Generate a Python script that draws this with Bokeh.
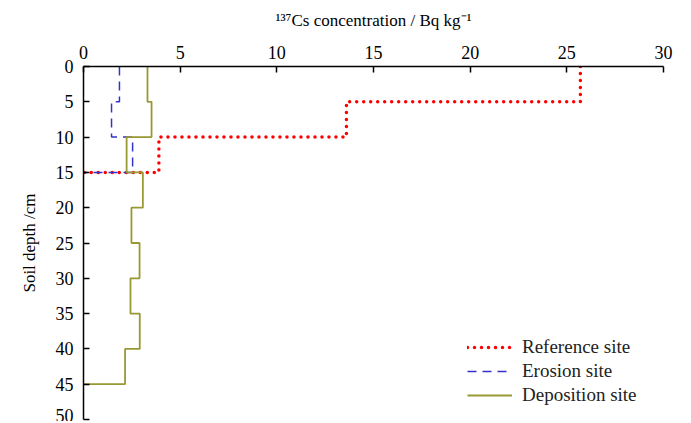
from bokeh.plotting import figure
from bokeh.models import Range1d, FixedTicker, Legend, LegendItem
from bokeh.embed import file_html
from bokeh.resources import INLINE

# Layer boundaries (cm) and 137Cs concentration (Bq/kg) per 5-cm layer
layer_top = [0, 5, 10, 15, 20, 25, 30, 35, 40]
layer_thickness = 5
ref_cs = [25.7, 13.6, 3.9]
ero_cs = [1.86, 1.45, 2.54]
dep_cs = [3.31, 3.52, 2.23, 3.07, 2.48, 2.90, 2.43, 2.91, 2.15]

x_ticks = [0, 5, 10, 15, 20, 25, 30]
y_ticks = [0, 5, 10, 15, 20, 25, 30, 35, 40, 45, 50]
series_names = ["Reference site", "Erosion site", "Deposition site"]


def step_profile(values):
    xs, ys = [], []
    for top, v in zip(layer_top, values):
        xs += [v, v]
        ys += [top, top + layer_thickness]
    xs.append(0)
    ys.append(ys[-1])
    return xs, ys


FONT = "Liberation Serif"

p = figure(width=685, height=421, output_backend="svg", toolbar_location=None,
           x_axis_location="above",
           x_range=Range1d(0, 30), y_range=Range1d(50, 0),
           min_border_left=83, min_border_right=22, min_border_top=66,
           min_border_bottom=2)
p.outline_line_color = None
p.xgrid.visible = False
p.ygrid.visible = False
p.background_fill_color = "white"
p.border_fill_color = "white"

for ax in (p.xaxis[0], p.yaxis[0]):
    ax.axis_line_color = "black"
    ax.axis_line_width = 1.5
    ax.major_tick_line_color = "black"
    ax.major_tick_line_width = 1.5
    ax.major_tick_in = 6
    ax.major_tick_out = 0
    ax.minor_tick_line_color = None
    ax.major_label_text_font = FONT
    ax.major_label_text_font_size = "18px"
    ax.major_label_text_color = "black"
    ax.axis_label_text_font = FONT
    ax.axis_label_text_font_style = "normal"
    ax.axis_label_text_color = "black"

p.xaxis[0].ticker = FixedTicker(ticks=x_ticks)
p.yaxis[0].ticker = FixedTicker(ticks=y_ticks)
p.xaxis[0].axis_label = "\u00b9\u00b3\u2077Cs concentration / Bq kg\u207b\u00b9"
p.xaxis[0].axis_label_text_font_size = "17px"
p.xaxis[0].major_label_standoff = 8
p.xaxis[0].axis_label_standoff = 13
p.yaxis[0].axis_label = "Soil depth /cm"
p.yaxis[0].axis_label_text_font_size = "17px"
p.yaxis[0].major_label_standoff = 10
p.yaxis[0].axis_label_standoff = 14

xs, ys = step_profile(ref_cs)
r_ref = p.line(xs, ys, line_color="#ff0000", line_width=3.5,
               line_dash="0 7", line_cap="round")
xs, ys = step_profile(ero_cs)
r_ero = p.line(xs, ys, line_color="#3333cc", line_width=1.5, line_dash="9 6")
xs, ys = step_profile(dep_cs)
r_dep = p.line(xs, ys, line_color="#999933", line_width=1.8)

legend = Legend(items=[LegendItem(label=series_names[0], renderers=[r_ref]),
                       LegendItem(label=series_names[1], renderers=[r_ero]),
                       LegendItem(label=series_names[2], renderers=[r_dep])],
                location=(384, 12), orientation="vertical")
legend.background_fill_alpha = 0
legend.border_line_color = None
legend.label_text_font = FONT
legend.label_text_font_size = "19px"
legend.label_text_color = "#222222"
legend.glyph_width = 45
legend.glyph_height = 24
legend.label_height = 24
legend.label_standoff = 10
legend.spacing = 0
legend.padding = 0
legend.margin = 0
p.add_layout(legend)

open("out.html", "w").write(file_html(p, INLINE))
